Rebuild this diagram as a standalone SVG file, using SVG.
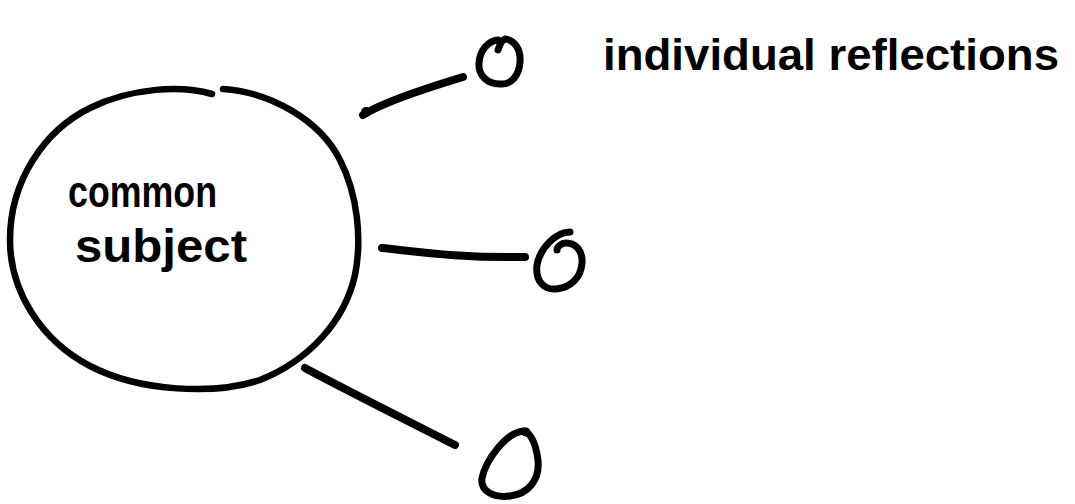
<svg xmlns="http://www.w3.org/2000/svg" width="1075" height="504" viewBox="0 0 1075 504">
  <style>
    .ink { fill: none; stroke: #000; stroke-linecap: round; stroke-linejoin: round; }
    .big { stroke-width: 6.5; }
    .small { stroke-width: 7; }
    .link { stroke-width: 8; }
    .hand { font-family: "Liberation Sans", Arial, sans-serif; font-weight: bold; fill: #000; }
  </style>
  <rect width="1075" height="504" fill="#fff"/>

  <!-- central topic -->
  <g id="node-subject">
    <path class="ink big" d="M223,89 C270,92 320,120 340,160 C358,195 362,240 355,275 C345,320 310,360 260,380 C215,395 140,392 90,366 C40,340 10,290 10,240 C10,180 45,130 90,108 C130,88 180,85 212,94"/>
    <text class="hand" x="68" y="207" font-size="44" textLength="149" lengthAdjust="spacingAndGlyphs">common</text>
    <text class="hand" x="75" y="262" font-size="46" textLength="172" lengthAdjust="spacingAndGlyphs">subject</text>
  </g>

  <!-- connectors from the subject to each reflection -->
  <g id="connectors">
    <path class="ink link" d="M363,115 C380,104 420,90 463,77"/>
    <circle cx="366" cy="112" r="5" fill="#000"/>
    <path class="ink link" d="M382,248 C420,252 460,258 525,257"/>
    <path class="ink link" d="M305,368 C340,387 400,417 455,445"/>
  </g>

  <!-- reflections -->
  <g id="node-r1">
    <path class="ink small" d="M498,50 C500,44 502,40 505,39 C515,40 521,50 520,62 C519,76 511,85 500,84 C487,84 478,75 479,63 C480,50 488,41 498,40"/>
  </g>
  <g id="node-r2">
    <path class="ink small" d="M570,232 C556,232 540,248 537,265 C535,282 545,290 556,289 C570,288 581,278 582,263 C583,250 575,243 566,243 C561,243 557,247 557,250"/>
  </g>
  <g id="node-r3">
    <path class="ink small" d="M524,431 C506,432 486,460 482,478 C480,492 495,498 510,496 C528,494 540,480 538,460 C536,445 532,434 524,431"/>
    <circle cx="526" cy="432" r="4.5" fill="#000"/>
  </g>

  <g id="label-reflections">
    <text class="hand" x="603" y="70" font-size="45" textLength="456" lengthAdjust="spacingAndGlyphs">individual reflections</text>
  </g>
</svg>
